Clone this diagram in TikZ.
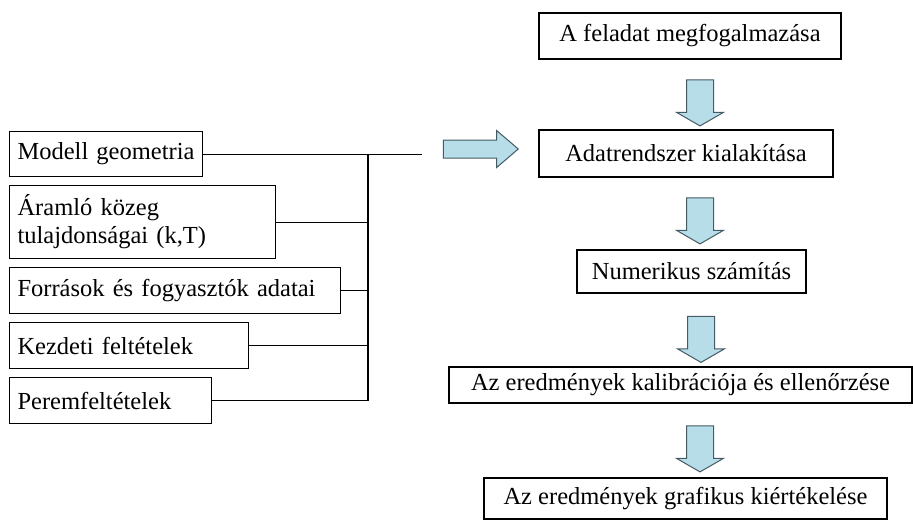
\documentclass[tikz,border=0pt]{standalone}
\usepackage{fontspec}
\setmainfont{Liberation Serif}
\usetikzlibrary{shapes.arrows}
\definecolor{arrowblue}{RGB}{183,221,232}
\definecolor{arrowline}{RGB}{70,90,100}
\begin{document}
\begin{tikzpicture}[
    x=1pt,y=-1pt,
    lbox/.style={draw,anchor=north west,align=left,inner xsep=8pt,inner ysep=0pt,line width=1.1pt,font=\fontsize{24.5}{28}\selectfont},
    rbox/.style={draw,align=center,inner sep=0pt,line width=1.1pt,font=\fontsize{24.5}{28}\selectfont},
    blk/.style={single arrow,draw=arrowline,fill=arrowblue,line width=1pt,inner xsep=0pt},
    darr/.style={blk,inner ysep=13pt,minimum height=46pt,minimum width=46pt,single arrow head extend=10pt,single arrow tip angle=120,rotate=-90},
    rarr/.style={blk,inner ysep=8.5pt,minimum height=75pt,minimum width=36pt,single arrow head extend=9.5pt,single arrow tip angle=81},
    ln/.style={line width=1.1pt}
]
\useasboundingbox (0,0) rectangle (913,520);
% input data
\node[lbox,text width=177pt,minimum height=45pt] (modell) at (9,131) {Modell geometria};
\node[lbox,text width=250pt,minimum height=73pt] (aramlo) at (9,185) {Áramló közeg\\tulajdonságai (k,T)};
\node[lbox,text width=315pt,minimum height=46pt] (forras) at (9,267) {Források és fogyasztók adatai};
\node[lbox,text width=223pt,minimum height=46pt] (kezdeti) at (9,322) {Kezdeti feltételek};
\node[lbox,text width=186pt,minimum height=46pt] (perem) at (9,377) {Peremfeltételek};
% main steps
\node[rbox,minimum width=302pt,minimum height=46pt] (feladat) at (690,36) {A feladat megfogalmazása};
\node[rbox,minimum width=294pt,minimum height=47pt] (adat) at (686,153.5) {Adatrendszer kialakítása};
\node[rbox,minimum width=229pt,minimum height=43pt] (num) at (691.5,271.5) {Numerikus számítás};
\node[rbox,minimum width=463pt,minimum height=36pt] (kalib) at (680.5,385) {Az eredmények kalibrációja és ellenőrzése};
\node[rbox,minimum width=403pt,minimum height=41pt] (graf) at (685.5,498.5) {Az eredmények grafikus kiértékelése};
% block arrows
\node[darr] (a1) at (700,99) {};
\node[darr] (a2) at (700,217) {};
\node[darr] (a3) at (701,335.5) {};
\node[darr] (a4) at (700,445) {};
\node[rarr] (ain) at (475.5,149) {};
% collecting lines
\coordinate (bus) at (368,0);
\coordinate (busend) at (422,0);
\draw[ln] (modell.east) -- (modell.east -| busend);
\draw[ln] (modell.east -| bus) -- (perem.east -| bus);
\draw[ln] (aramlo.east) -- (aramlo.east -| bus);
\draw[ln] (forras.east) -- (forras.east -| bus);
\draw[ln] (kezdeti.east) -- (kezdeti.east -| bus);
\draw[ln] (perem.east) -- (perem.east -| bus);
\end{tikzpicture}
\end{document}
